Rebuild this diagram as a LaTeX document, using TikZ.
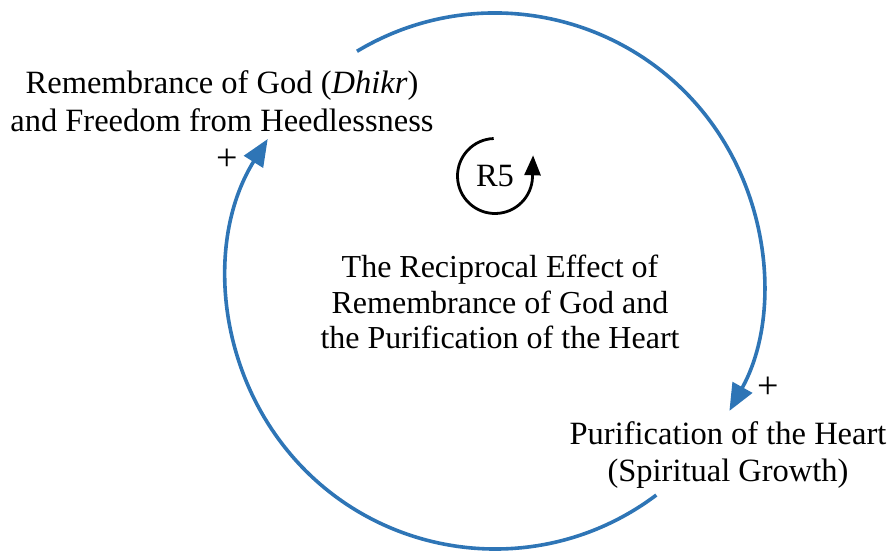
\documentclass[tikz,border=0pt]{standalone}
\usepackage{fontspec}
\setmainfont{Liberation Serif}
\usetikzlibrary{arrows.meta}
\definecolor{loopblue}{RGB}{46,117,182}
\tikzset{
  varlabel/.style={align=center, font=\fontsize{32.5}{37.5}\selectfont, inner sep=0pt},
  titlelabel/.style={align=center, font=\fontsize{32}{35.5}\selectfont, inner sep=0pt},
  polarity/.style={font=\fontsize{38}{38}\selectfont, inner sep=0pt},
  link/.style={draw=loopblue, line width=3.6pt, -{Triangle[length=27pt,width=22pt]}},
  loopmark/.style={draw=black, line width=2.8pt, -{Triangle[length=20pt,width=16pt]}}
}
\begin{document}
\begin{tikzpicture}[x=1pt,y=1pt]
\useasboundingbox (0,0) rectangle (893,552);
\coordinate (ctr) at (495,271);
\node[varlabel] (rem) at (222,451) {Remembrance of God (\textit{Dhikr})\\and Freedom from Heedlessness};
\node[varlabel] (pur) at (728,97) {Purification of the Heart\\(Spiritual Growth)};
\node[titlelabel] (ttl) at (500,250) {The Reciprocal Effect of\\Remembrance of God and\\the Purification of the Heart};
\node[varlabel] (rlab) at (495,376) {R5};
\node[polarity] (p1) at (227,392) {+};
\node[polarity] (p2) at (768,164) {+};
\coordinate (rc) at (495,376);
% links
\draw[link] (ctr) ++(121:268) arc[start angle=121, end angle=-29, radius=268];
\draw[link] (ctr) ++(-53:268) arc[start angle=-53, end angle=-212, radius=268];
% loop marker
\draw[loopmark] (rc) ++(92:37.5) arc[start angle=92, end angle=358, radius=37.5] -- ++(0.6,22);
\end{tikzpicture}
\end{document}
